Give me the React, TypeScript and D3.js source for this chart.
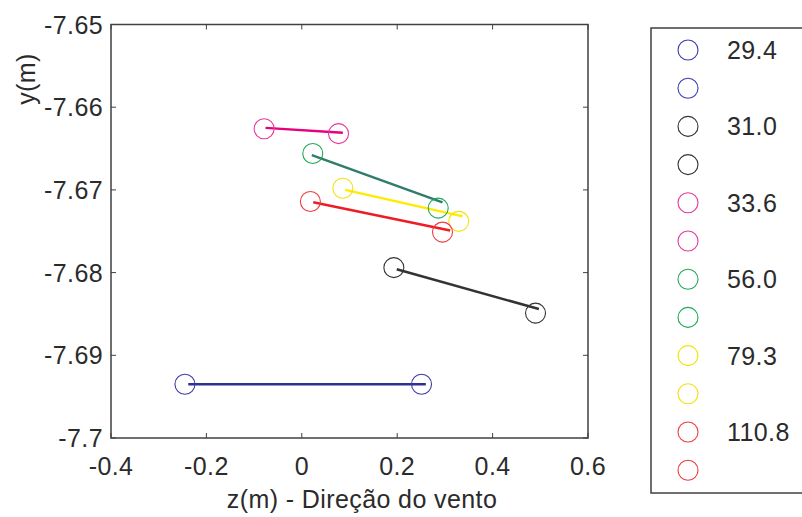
import React from "react";
import * as d3 from "d3";

// Series labels (legend) and colours
const seriesLabels = ["29.4", "31.0", "33.6", "56.0", "79.3", "110.8"];
const circleColors = ["#3a3aa8", "#333333", "#e8389a", "#1fa85a", "#f2e20a", "#ef3b3b"];
const lineColors = ["#2e3192", "#333333", "#e6007e", "#2f7d6a", "#ffeb00", "#ee1c25"];

// Circle markers: [z1, y1, z2, y2] for each series
const circleZ1 = [-0.245, 0.193, -0.079, 0.023, 0.086, 0.018];
const circleY1 = [-7.6935, -7.6794, -7.6626, -7.6656, -7.6698, -7.6714];
const circleZ2 = [0.251, 0.49, 0.077, 0.286, 0.329, 0.295];
const circleY2 = [-7.6935, -7.6849, -7.6632, -7.6722, -7.6738, -7.6751];

// Line segments
const lineZ1 = [-0.238, 0.199, -0.076, 0.021, 0.091, 0.024];
const lineY1 = [-7.6935, -7.6796, -7.6625, -7.6658, -7.67, -7.6715];
const lineZ2 = [0.26, 0.497, 0.086, 0.295, 0.337, 0.311];
const lineY2 = [-7.6935, -7.6844, -7.6631, -7.6715, -7.6732, -7.6749];

const xTicks = [-0.4, -0.2, 0, 0.2, 0.4, 0.6];
const xTickLabels = ["-0.4", "-0.2", "0", "0.2", "0.4", "0.6"];
const yTicks = [-7.65, -7.66, -7.67, -7.68, -7.69, -7.7];
const yTickLabels = ["-7.65", "-7.66", "-7.67", "-7.68", "-7.69", "-7.7"];

const W = 802;
const H = 517;
const L = 111, R = 588, T = 24.5, B = 438;

export default function App() {
  const x = d3.scaleLinear().domain([-0.4, 0.6]).range([L, R]);
  const y = d3.scaleLinear().domain([-7.7, -7.65]).range([B, T]);
  const font = "'Liberation Sans', Arial, Helvetica, sans-serif";
  const textColor = "#2b2b2b";
  const axisColor = "#404040";
  const fs = 25;
  const ls = 0.4;
  const tickLen = 5;
  const legendRows: { color: string; label: string }[] = [];
  seriesLabels.forEach((lab, i) => {
    legendRows.push({ color: circleColors[i], label: lab });
    legendRows.push({ color: circleColors[i], label: "" });
  });
  const line = d3.line<[number, number]>().x((d) => x(d[0])).y((d) => y(d[1]));
  return (
    <svg
      width={W}
      height={H}
      style={{ position: "absolute", left: 0, top: 0, background: "#fff" }}
      fontFamily={font}
    >
      <rect x={0} y={0} width={W} height={H} fill="#fff" />
      {/* plot box */}
      <rect x={L} y={T} width={R - L} height={B - T} fill="#fff" stroke={axisColor} strokeWidth={1.5} />
      {xTicks.map((t, i) => (
        <g key={"xt" + i}>
          <line x1={x(t)} x2={x(t)} y1={B} y2={B - tickLen} stroke={axisColor} strokeWidth={1} />
          <line x1={x(t)} x2={x(t)} y1={T} y2={T + tickLen} stroke={axisColor} strokeWidth={1} />
          <text x={x(t)} y={B + 37} textAnchor="middle" fontSize={fs} letterSpacing={ls} fill={textColor}>
            {xTickLabels[i]}
          </text>
        </g>
      ))}
      {yTicks.map((t, i) => (
        <g key={"yt" + i}>
          <line x1={L} x2={L + tickLen} y1={y(t)} y2={y(t)} stroke={axisColor} strokeWidth={1} />
          <line x1={R} x2={R - tickLen} y1={y(t)} y2={y(t)} stroke={axisColor} strokeWidth={1} />
          <text x={L - 8} y={y(t)} dy="0.36em" textAnchor="end" fontSize={fs} letterSpacing={ls} fill={textColor}>
            {yTickLabels[i]}
          </text>
        </g>
      ))}
      <text x={362} y={508} textAnchor="middle" fontSize={fs} letterSpacing={ls} fill={textColor}>
        z(m) - Direção do vento
      </text>
      <text transform="translate(35,79) rotate(-90)" textAnchor="middle" fontSize={fs} letterSpacing={ls} fill={textColor}>
        y(m)
      </text>
      {/* lines */}
      {seriesLabels.map((_, i) => (
        <path
          key={"ln" + i}
          d={line([[lineZ1[i], lineY1[i]], [lineZ2[i], lineY2[i]]]) || ""}
          stroke={lineColors[i]}
          strokeWidth={2.5}
          fill="none"
        />
      ))}
      {/* circles */}
      {seriesLabels.map((_, i) => (
        <g key={"c" + i}>
          <circle cx={x(circleZ1[i])} cy={y(circleY1[i])} r={10} fill="none" stroke={circleColors[i]} strokeWidth={1.1} />
          <circle cx={x(circleZ2[i])} cy={y(circleY2[i])} r={10} fill="none" stroke={circleColors[i]} strokeWidth={1.1} />
        </g>
      ))}
      {/* legend */}
      <rect x={651} y={28} width={200} height={465} fill="#fff" stroke={axisColor} strokeWidth={1.5} />
      {legendRows.map((r, i) => (
        <g key={"lg" + i}>
          <circle cx={688} cy={50 + i * 38.2} r={10} fill="none" stroke={r.color} strokeWidth={1.1} />
          {r.label && (
            <text x={727} y={50 + i * 38.2} dy="0.36em" fontSize={fs} letterSpacing={ls} fill={textColor}>
              {r.label}
            </text>
          )}
        </g>
      ))}
    </svg>
  );
}
